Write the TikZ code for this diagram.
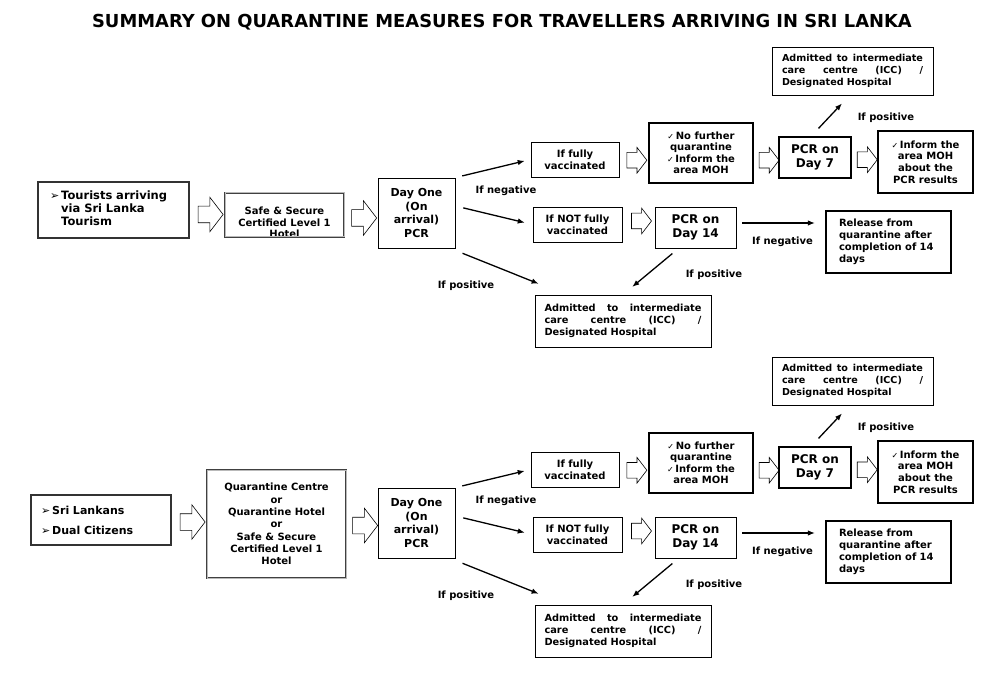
\documentclass[tikz,border=0pt]{standalone}
\usepackage{fontspec}
\setmainfont{DejaVu Sans}
\usetikzlibrary{shapes.arrows,arrows.meta,calc}
\newcommand{\tick}{{\normalfont\fontsize{8}{8}\selectfont ✓}\,}
\newcommand{\pointer}{{\normalfont\fontsize{11}{11}\selectfont ➢}}
\begin{document}
\begin{tikzpicture}[x=1pt, y=-1pt,
  every node/.style={font=\bfseries\fontsize{10}{12}\selectfont, inner sep=0pt},
  box/.style={draw, line width=0.9pt, fill=white, align=center},
  heavybox/.style={box, line width=2.2pt},
  thickbox/.style={box, draw=black!80, line width=2.4pt},
  inbox/.style={box, draw=black!75, double=gray!55, double distance=1pt, line width=0.8pt},
  hollow/.style={draw, line width=0.6pt, single arrow, single arrow tip angle=105,
    inner ysep=7.5pt, single arrow head extend=5pt, minimum height=20pt},
  bighollow/.style={hollow, inner ysep=8pt, single arrow head extend=9pt, minimum height=25pt},
  link/.style={line width=1.3pt, -{Latex[length=7pt,width=5.5pt]}}]
\useasboundingbox (0,0) rectangle (1001,700);
% title
\node[font=\bfseries\fontsize{17.9}{20}\selectfont] (title) at (502,22) {SUMMARY ON QUARANTINE MEASURES FOR TRAVELLERS ARRIVING IN SRI LANKA};
% tourists
\node[thickbox, minimum width=151pt, minimum height=56pt, text width=127pt, align=left, font=\bfseries\fontsize{11.5}{13}\selectfont] (tourA) at (113.5,210) {\begin{tabular}{@{}l@{\hspace{2pt}}l@{}}\pointer & Tourists arriving\\ & via Sri Lanka\\ & Tourism\end{tabular}};
\node[inbox, minimum width=119pt, minimum height=44pt, path picture={\node[align=center, font=\bfseries\fontsize{10}{11.5}\selectfont] at ([yshift=-7.5pt]path picture bounding box.center) {Safe \& Secure\\Certified Level 1\\Hotel};}] (stayA) at (284.5,215) {};
% locals
\node[thickbox, minimum width=140pt, minimum height=50pt, text width=120pt, align=left, font=\bfseries\fontsize{11}{20}\selectfont] (tourB) at (101,520) {\begin{tabular}{@{}l@{\hspace{2pt}}l@{}}\pointer & Sri Lankans\\ \pointer & Dual Citizens\end{tabular}};
\node[inbox, minimum width=139pt, minimum height=108pt, font=\bfseries\fontsize{10}{12.3}\selectfont] (stayB) at (276.5,524) {Quarantine Centre\\or\\Quarantine Hotel\\or\\Safe \& Secure\\Certified Level 1\\Hotel};
% the same testing chain for both groups
\foreach \s/\dy in {A/0,B/310}{
  \node[box, minimum width=77pt, minimum height=70pt, font=\bfseries\fontsize{11}{13.5}\selectfont] (day\s) at (416.5,213+\dy) {Day One\\(On\\arrival)\\PCR};
  \node[box, minimum width=88pt, minimum height=35pt] (full\s) at (575,159.5+\dy) {If fully\\vaccinated};
  \node[box, line width=1.5pt, minimum width=104pt, minimum height=60pt, font=\bfseries\fontsize{10}{11.5}\selectfont] (nofur\s) at (701,153+\dy) {\tick No further\\quarantine\\\tick Inform the\\area MOH};
  \node[box, line width=1.2pt, minimum width=72pt, minimum height=41pt, font=\bfseries\fontsize{12}{14}\selectfont] (pcra\s) at (815,157.5+\dy) {PCR on\\Day 7};
  \node[heavybox, minimum width=95pt, minimum height=62pt, font=\bfseries\fontsize{10}{11.7}\selectfont] (inf\s) at (925.5,162+\dy) {\tick Inform the\\area MOH\\about the\\PCR results};
  \node[box, minimum width=161pt, minimum height=48pt, text width=141pt, align=left, font=\bfseries\fontsize{9.6}{12}\selectfont] (icct\s) at (852.5,71+\dy) {\hbox to\linewidth{Admitted\hfill to\hfill intermediate}\\care\hfill centre\hfill (ICC)\hfill /\\Designated Hospital};
  \node[box, minimum width=89pt, minimum height=35pt] (notv\s) at (577.5,224.5+\dy) {If NOT fully\\vaccinated};
  \node[box, minimum width=81pt, minimum height=41pt, font=\bfseries\fontsize{12}{14}\selectfont] (pcrb\s) at (695.5,227.5+\dy) {PCR on\\Day 14};
  \node[heavybox, minimum width=125pt, minimum height=62pt, text width=99pt, align=left] (rel\s) at (888.5,242+\dy) {Release from\\quarantine after\\completion of 14\\days};
  \node[box, minimum width=176pt, minimum height=52pt, text width=157pt, align=left, font=\bfseries\fontsize{9.8}{12}\selectfont] (icc\s) at (623,321+\dy) {\hbox to\linewidth{Admitted\hfill to\hfill intermediate}\\care\hfill centre\hfill (ICC)\hfill /\\Designated Hospital};
  % block arrows
  \node[hollow, yshift=-4pt] (h1\s) at ($(full\s.east)!.5!(nofur\s.west)$) {};
  \node[hollow, yshift=-5pt] (h2\s) at ($(nofur\s.east)!.5!(pcra\s.west)$) {};
  \node[hollow] (h3\s) at ($(pcra\s.east)!.5!(inf\s.west)$) {};
  \node[hollow, yshift=5pt] (h4\s) at ($(notv\s.east)!.5!(pcrb\s.west)$) {};
  % result arrows
  \draw[link, shorten <=7pt, shorten >=6pt] (day\s.north east) -- (full\s.west);
  \draw[link, shorten <=8pt, shorten >=8pt] ([yshift=7pt]day\s.east) -- (notv\s.west);
  \draw[link, shorten <=13pt, shorten >=29pt] ([xshift=-5pt]day\s.south east) -- ([xshift=31pt]icc\s.north west);
  \draw[link, shorten <=8pt, shorten >=12pt] ([xshift=-17pt]pcrb\s.south) -- (icc\s.north);
  \draw[link, shorten <=6pt, shorten >=10pt] ($(pcrb\s.east)+(0,-4.5)$) -- ($(pcrb\s.east -| rel\s.west)+(0,-4.5)$);
  \draw[link, shorten <=11pt, shorten >=11pt] ([xshift=-4pt]pcra\s.north) -- ([xshift=-3pt]icct\s.south);
  % labels
  \node (neg\s) at (506,191+\dy) {If negative};
  \node (pos\s) at (466,286+\dy) {If positive};
  \node (posb\s) at (714,275+\dy) {If positive};
  \node (negb\s) at (782.5,242+\dy) {If negative};
  \node (posa\s) at (886,118+\dy) {If positive};
}
% block arrows on the left
\node[bighollow, yshift=-2pt] (goA) at ($(tourA.east)!.5!(stayA.west)$) {};
\node[bighollow, yshift=-4pt] (inA) at ($(stayA.east)!.5!(dayA.west)$) {};
\node[bighollow] (goB) at ($(tourB.east)!.5!(stayB.west)$) {};
\node[bighollow, yshift=-2pt] (inB) at ($(stayB.east)!.5!(dayB.west)$) {};
\end{tikzpicture}
\end{document}
